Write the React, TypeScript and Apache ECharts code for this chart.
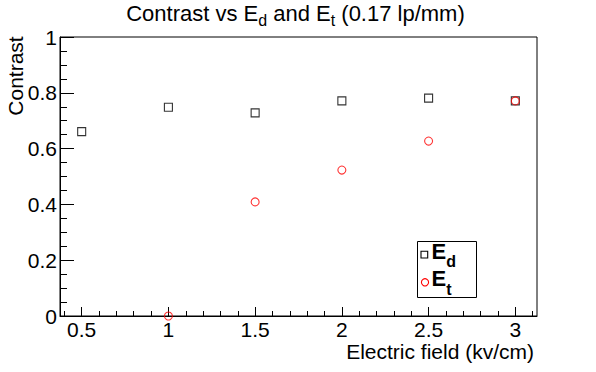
import React, { useEffect, useRef } from "react";
import * as echarts from "echarts";

const fieldEd = [0.5, 1, 1.5, 2, 2.5, 3];
const contrastEd = [0.661, 0.748, 0.728, 0.771, 0.781, 0.771];
const fieldEt = [1, 1.5, 2, 2.5, 3];
const contrastEt = [0, 0.409, 0.523, 0.627, 0.771];
const xMajorTicks = [0.5, 1, 1.5, 2, 2.5, 3];
const xMinorTicks = [
  0.4, 0.6, 0.7, 0.8, 0.9, 1.1, 1.2, 1.3, 1.4, 1.6, 1.7, 1.8, 1.9, 2.1, 2.2,
  2.3, 2.4, 2.6, 2.7, 2.8, 2.9, 3.1,
];
const xRange = [0.375, 3.125];
const yRange = [0, 1];

const FONT = "'Liberation Sans', Arial, Helvetica, sans-serif";

export default function App() {
  const ref = useRef<HTMLDivElement>(null);
  useEffect(() => {
    if (!ref.current) return;
    const chart = echarts.init(ref.current, null, { renderer: "svg" });
    const gridL = 60,
      gridT = 37,
      gridW = 477,
      gridH = 279;
    const richTitle = {
      m: { fontSize: 22, fontFamily: FONT, fill: "#000", lineHeight: 22, verticalAlign: "top" },
      sub: { fontSize: 16, fontFamily: FONT, fill: "#000", lineHeight: 16, verticalAlign: "top", padding: [9.8, 0, 0, 0] },
    };
    const richLegend = {
      m: { fontSize: 22, fontWeight: "bold", fontFamily: FONT, fill: "#000", lineHeight: 22, verticalAlign: "top" },
      sub: { fontSize: 16, fontWeight: "bold", fontFamily: FONT, fill: "#000", lineHeight: 16, verticalAlign: "top", padding: [13.4, 0, 0, 0] },
    };
    const option: any = {
      animation: false,
      backgroundColor: "#fff",
      textStyle: { fontFamily: FONT },
      grid: {
        left: gridL,
        top: gridT,
        width: gridW,
        height: gridH,
        show: true,
        borderColor: "#000",
        borderWidth: 1,
        backgroundColor: "transparent",
      },
      xAxis: [
        {
          type: "value",
          min: xRange[0],
          max: xRange[1],
          position: "bottom",
          axisLine: { show: true, onZero: false, lineStyle: { color: "#000", width: 1 } },
          axisTick: {
            show: true,
            inside: true,
            length: 9,
            customValues: xMajorTicks,
            lineStyle: { color: "#000", width: 1 },
          },
          axisLabel: {
            show: true,
            customValues: xMajorTicks,
            color: "#000",
            fontSize: 21,
            fontFamily: FONT,
            margin: 3,
            formatter: (v: number) => String(v),
          },
          splitLine: { show: false },
        },
        {
          type: "value",
          min: xRange[0],
          max: xRange[1],
          position: "bottom",
          axisLine: { show: false, onZero: false },
          axisTick: {
            show: true,
            inside: true,
            length: 5,
            customValues: xMinorTicks,
            lineStyle: { color: "#000", width: 1 },
          },
          axisLabel: { show: false },
          splitLine: { show: false },
        },
      ],
      yAxis: {
        type: "value",
        min: yRange[0],
        max: yRange[1],
        interval: 0.2,
        axisLine: { show: true, onZero: false, lineStyle: { color: "#000", width: 1 } },
        axisTick: { show: true, inside: true, length: 14, lineStyle: { color: "#000", width: 1 } },
        minorTick: { show: true, splitNumber: 4, length: 7, lineStyle: { color: "#000", width: 1 } },
        axisLabel: {
          color: "#000",
          fontSize: 21,
          fontFamily: FONT,
          margin: 3,
          formatter: (v: number) => String(Math.round(v * 10) / 10),
        },
        splitLine: { show: false },
      },
      series: [
        {
          name: "Ed",
          type: "scatter",
          xAxisIndex: 0,
          data: fieldEd.map((x, i) => [x, contrastEd[i]]),
          symbol: "rect",
          symbolSize: 8,
          clip: false,
          itemStyle: { color: "transparent", borderColor: "#000", borderWidth: 1.1 },
        },
        {
          name: "Et",
          type: "scatter",
          xAxisIndex: 0,
          data: fieldEt.map((x, i) => [x, contrastEt[i]]),
          symbol: "circle",
          symbolSize: 8,
          clip: false,
          itemStyle: { color: "transparent", borderColor: "#ff0000", borderWidth: 1.1 },
        },
      ],
      graphic: [
        {
          type: "text",
          x: 295.5,
          y: 2.7,
          style: {
            text: "{m|Contrast vs E}{sub|d}{m| and E}{sub|t}{m| (0.17 lp/mm)}",
            fontSize: 22,
            fontFamily: FONT,
            fill: "#000",
            align: "center",
            verticalAlign: "top",
            rich: richTitle,
          },
        },
        {
          type: "text",
          x: 15.4,
          y: 36.3,
          rotation: Math.PI / 2,
          style: {
            text: "Contrast",
            fontSize: 21,
            fontFamily: FONT,
            fill: "#000",
            align: "right",
            verticalAlign: "middle",
          },
        },
        {
          type: "text",
          x: 534,
          y: 351.2,
          style: {
            text: "Electric field (kv/cm)",
            fontSize: 21,
            fontFamily: FONT,
            fill: "#000",
            align: "right",
            verticalAlign: "middle",
          },
        },
        {
          type: "rect",
          shape: { x: 417.5, y: 241.5, width: 59, height: 56 },
          style: { fill: "#fff", stroke: "#000", lineWidth: 1 },
          z: 10,
        },
        {
          type: "rect",
          shape: { x: 421, y: 251.3, width: 6.7, height: 6.7 },
          style: { fill: "none", stroke: "#000", lineWidth: 1.1 },
          z: 11,
        },
        {
          type: "circle",
          shape: { cx: 425, cy: 282.3, r: 3.6 },
          style: { fill: "none", stroke: "#ff0000", lineWidth: 1.1 },
          z: 11,
        },
        {
          type: "text",
          x: 431.5,
          y: 240.4,
          z: 11,
          style: {
            text: "{m|E}{sub|d}",
            fontSize: 22,
            fontWeight: "bold",
            fontFamily: FONT,
            fill: "#000",
            align: "left",
            verticalAlign: "top",
            rich: richLegend,
          },
        },
        {
          type: "text",
          x: 431.5,
          y: 267.7,
          z: 11,
          style: {
            text: "{m|E}{sub|t}",
            fontSize: 22,
            fontWeight: "bold",
            fontFamily: FONT,
            fill: "#000",
            align: "left",
            verticalAlign: "top",
            rich: richLegend,
          },
        },
      ],
    };
    chart.setOption(option);
    return () => chart.dispose();
  }, []);
  return <div ref={ref} style={{ width: 596, height: 372, position: "absolute", left: 0, top: 0 }} />;
}
